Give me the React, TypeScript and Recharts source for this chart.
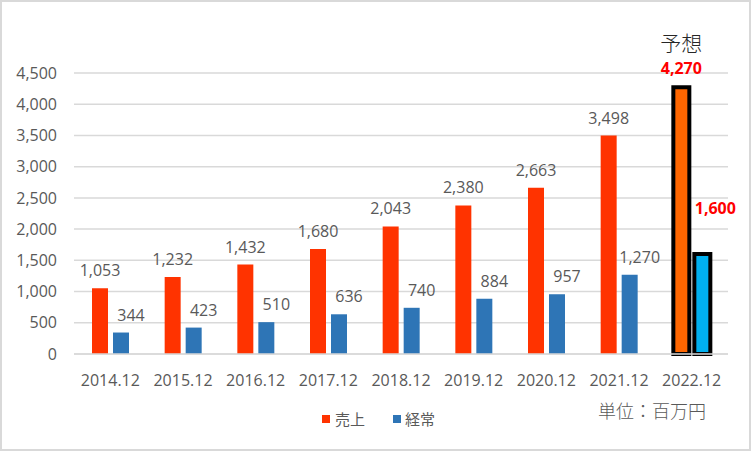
import React from "react";
import {
  BarChart,
  Bar,
  Cell,
  CartesianGrid,
  XAxis,
  YAxis,
  Legend,
  LabelList,
} from "recharts";

const years = [
  "2014.12",
  "2015.12",
  "2016.12",
  "2017.12",
  "2018.12",
  "2019.12",
  "2020.12",
  "2021.12",
  "2022.12",
];
const sales = [1053, 1232, 1432, 1680, 2043, 2380, 2663, 3498, 4270];
const ordinary = [344, 423, 510, 636, 740, 884, 957, 1270, 1600];
const yTicks = [0, 500, 1000, 1500, 2000, 2500, 3000, 3500, 4000, 4500];

const data = years.map((name, i) => ({
  name,
  sales: sales[i],
  ordinary: ordinary[i],
}));

const LAST = years.length - 1;
const FONT = "'Open Sans', 'Noto Sans CJK JP', sans-serif";
const JP = "'Noto Sans CJK JP', sans-serif";
const GRAY = "#595959";

const fmt = (v: number) => v.toLocaleString("en-US");

const SalesLabel = (props: any) => {
  const { x, y, width, value, index } = props;
  const cx = Number(x) + Number(width) / 2;
  if (index === LAST) {
    return (
      <g>
        <text x={cx} y={y - 36} textAnchor="middle" fontSize={21} fill="#262626" fontFamily={JP} fontWeight={300}>
          予想
        </text>
        <text x={cx} y={y - 13} textAnchor="middle" fontSize={16} fontWeight="bold" fill="#ff0000" fontFamily={FONT}>
          {fmt(value)}
        </text>
      </g>
    );
  }
  return (
    <text x={cx} y={y - 12} textAnchor="middle" fontSize={16} fill={GRAY} fontFamily={FONT}>
      {fmt(value)}
    </text>
  );
};

const OrdinaryLabel = (props: any) => {
  const { x, y, width, value, index } = props;
  const cx = Number(x) + Number(width) / 2;
  if (index === LAST) {
    return (
      <text x={cx + 13} y={y - 40} textAnchor="middle" fontSize={16} fontWeight="bold" fill="#ff0000" fontFamily={FONT}>
        {fmt(value)}
      </text>
    );
  }
  return (
    <text x={cx + 10} y={y - 12} textAnchor="middle" fontSize={16} fill={GRAY} fontFamily={FONT}>
      {fmt(value)}
    </text>
  );
};

const LegendBox = () => (
  <div
    style={{
      position: "relative",
      width: 752,
      height: 24,
      fontFamily: JP,
      fontSize: 15,
      color: GRAY,
    }}
  >
    <div style={{ position: "absolute", left: 322, top: 7, width: 8, height: 8, background: "#ff3300" }} />
    <div style={{ position: "absolute", left: 335, top: 0, lineHeight: "22px" }}>売上</div>
    <div style={{ position: "absolute", left: 393, top: 7, width: 8, height: 8, background: "#2e75b6" }} />
    <div style={{ position: "absolute", left: 405, top: 0, lineHeight: "22px" }}>経常</div>
  </div>
);

export default function App() {
  return (
    <div style={{ position: "absolute", left: 0, top: 0, width: 752, height: 452, background: "#fff" }}>
      <BarChart
        width={752}
        height={452}
        data={data}
        margin={{ top: 73, right: 24, left: 0, bottom: 68 }}
        barSize={16}
        barGap={5}
      >
        <CartesianGrid vertical={false} stroke="#d9d9d9" strokeWidth={1.5} />
        <XAxis
          dataKey="name"
          height={30}
          tickLine={false}
          tickSize={0}
          tickMargin={21}
          axisLine={{ stroke: "#d9d9d9", strokeWidth: 1.5 }}
          tick={{ fill: GRAY, fontSize: 16, fontFamily: FONT }}
        />
        <YAxis
          width={74}
          domain={[0, 4500]}
          ticks={yTicks}
          tickFormatter={fmt}
          tickLine={false}
          axisLine={false}
          tickSize={0}
          tickMargin={17}
          tick={{ fill: GRAY, fontSize: 16, fontFamily: FONT }}
        />
        <Legend
          layout="horizontal"
          verticalAlign="middle"
          align="center"
          wrapperStyle={{ top: 408, left: 0, width: 752 }}
          content={() => <LegendBox />}
        />
        <Bar dataKey="sales" fill="#ff3300" isAnimationActive={false}>
          {data.map((_, i) =>
            i === LAST ? (
              <Cell key={i} fill="#ff6600" stroke="#000" strokeWidth={4} />
            ) : (
              <Cell key={i} fill="#ff3300" />
            )
          )}
          <LabelList dataKey="sales" content={SalesLabel} />
        </Bar>
        <Bar dataKey="ordinary" fill="#2e75b6" isAnimationActive={false}>
          {data.map((_, i) =>
            i === LAST ? (
              <Cell key={i} fill="#00b0f0" stroke="#000" strokeWidth={4} />
            ) : (
              <Cell key={i} fill="#2e75b6" />
            )
          )}
          <LabelList dataKey="ordinary" content={OrdinaryLabel} />
        </Bar>
      </BarChart>
      <div
        style={{
          position: "absolute",
          left: 598,
          top: 397,
          fontFamily: JP,
          fontSize: 18,
          fontWeight: 300,
          color: GRAY,
          lineHeight: "26px",
          whiteSpace: "nowrap",
        }}
      >
        単位：百万円
      </div>
      <div
        style={{
          position: "absolute",
          left: 0,
          top: 0,
          width: 747,
          height: 447,
          border: "2px solid #d9d9d9",
          pointerEvents: "none",
        }}
      />
    </div>
  );
}
